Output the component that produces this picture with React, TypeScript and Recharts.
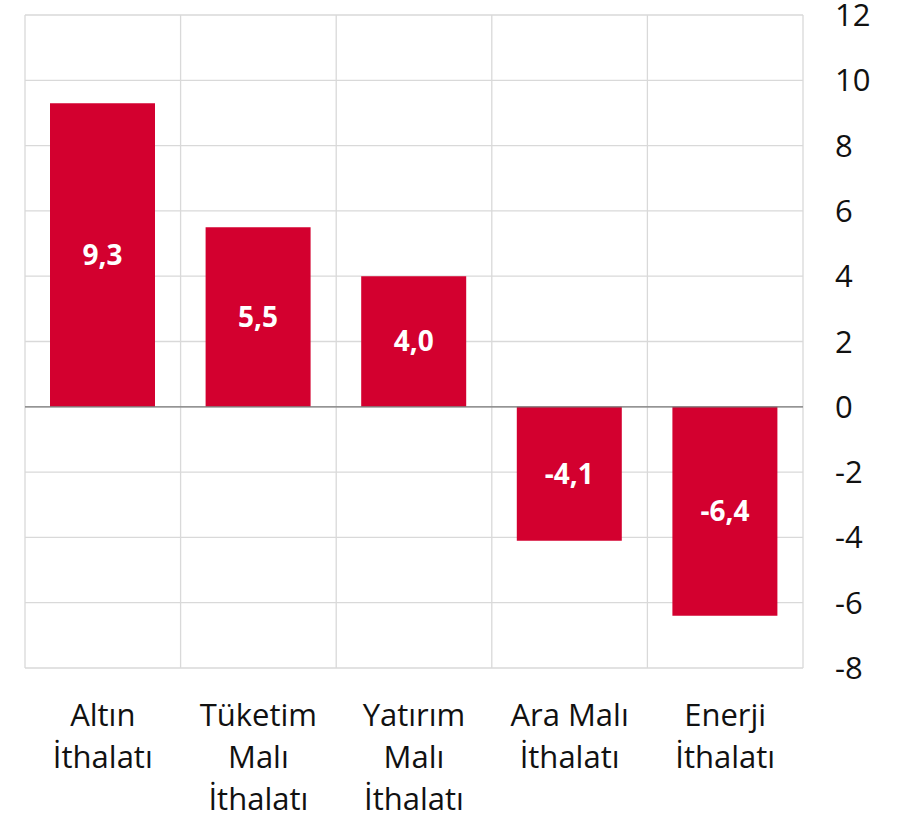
import React from 'react'
import { BarChart, Bar, XAxis, YAxis, CartesianGrid, ReferenceLine, LabelList } from 'recharts'

const categories = [
  'Altın\nİthalatı',
  'Tüketim\nMalı\nİthalatı',
  'Yatırım\nMalı\nİthalatı',
  'Ara Malı\nİthalatı',
  'Enerji\nİthalatı',
]
const values = [9.3, 5.5, 4.0, -4.1, -6.4]
const yTicks = [-8, -6, -4, -2, 0, 2, 4, 6, 8, 10, 12]

const data = categories.map((c, i) => ({ name: c, value: values[i] }))

const FONT = '"Open Sans", sans-serif'

const CategoryTick = (props: any) => {
  const { x, y, payload } = props
  const lines = String(payload.value).split('\n')
  return (
    <text x={x} y={y} textAnchor="middle" fontSize={31} fontFamily={FONT} fill="#111">
      {lines.map((l, i) => (
        <tspan key={i} x={x} y={y + 58 + i * 42}>{l}</tspan>
      ))}
    </text>
  )
}

const App = () => {
  return (
    <div style={{ position: 'absolute', left: 0, top: 0, background: '#fff' }}>
      <BarChart
        width={917}
        height={819}
        data={data}
        margin={{ top: 15, right: 0, left: 25, bottom: 0 }}
      >
        <CartesianGrid
          stroke="#d9d9d9"
          strokeWidth={1.3}
          verticalCoordinatesGenerator={({ offset }: any) =>
            [0, 1, 2, 3, 4, 5].map((i) => offset.left + (i * offset.width) / categories.length)
          }
        />
        <XAxis
          dataKey="name"
          interval={0}
          axisLine={false}
          tickLine={false}
          tickSize={0}
          tickMargin={0}
          height={151}
          tick={<CategoryTick />}
        />
        <YAxis
          orientation="right"
          width={114}
          domain={[-8, 12]}
          ticks={yTicks}
          interval={0}
          axisLine={false}
          tickLine={false}
          tickSize={0}
          tickMargin={32}
          tick={{ fontSize: 31, fontFamily: FONT, fill: '#111', textAnchor: 'start' }}
        />
        <Bar dataKey="value" fill="#d3002f" barSize={105} isAnimationActive={false}>
          <LabelList
            dataKey="value"
            position="center"
            fill="#fff"
            fontSize={28}
            fontWeight="bold"
            fontFamily={FONT}
            formatter={(v: any) => Number(v).toFixed(1).replace('.', ',')}
          />
        </Bar>
        <ReferenceLine y={0} stroke="#7a7a7a" strokeWidth={1.3} />
      </BarChart>
    </div>
  )
}

export default App
